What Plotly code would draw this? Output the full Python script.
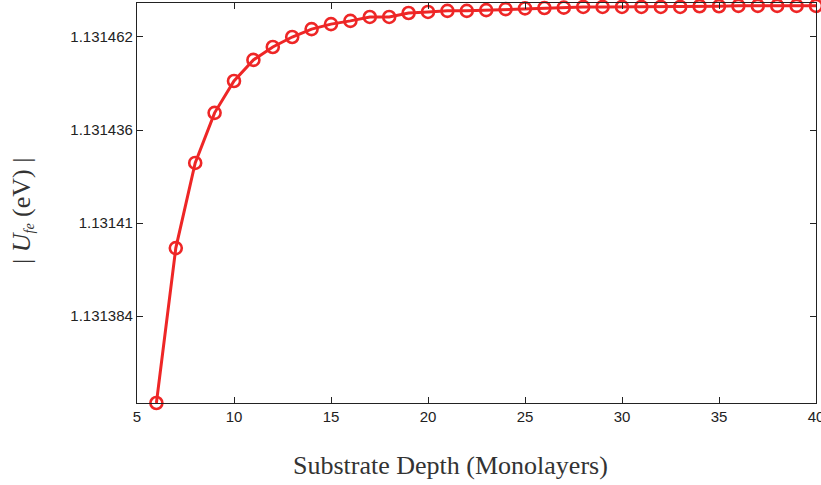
import plotly.graph_objects as go

depth = list(range(6, 41))
energy = [
    1.1313597, 1.1314030, 1.1314268, 1.1314408, 1.1314497, 1.1314556, 1.1314592,
    1.1314620, 1.1314642, 1.1314656, 1.1314665, 1.1314676, 1.1314676, 1.1314687,
    1.1314690, 1.1314693, 1.1314693, 1.1314695, 1.1314698, 1.1314700, 1.1314701,
    1.1314702, 1.1314704, 1.1314704, 1.1314704, 1.1314704, 1.1314704, 1.1314704,
    1.1314706, 1.1314706, 1.1314707, 1.1314707, 1.1314707, 1.1314707, 1.1314707,
]
x_ticks = [5, 10, 15, 20, 25, 30, 35, 40]
y_ticks = [1.131384, 1.13141, 1.131436, 1.131462]
y_tick_labels = ["1.131384", "1.13141", "1.131436", "1.131462"]

red = "rgb(238,38,38)"

fig = go.Figure(go.Scatter(
    x=depth, y=energy, mode="lines+markers",
    line=dict(color=red, width=3),
    marker=dict(symbol="circle-open", size=12, color=red, line=dict(width=2.6, color=red)),
    cliponaxis=False,
))

tick_font = dict(family="Liberation Sans Narrow, Liberation Sans, Arial", size=15, color="#222")
title_font = dict(family="Liberation Serif, DejaVu Serif", size=26, color="#333")
fig.update_layout(
    width=821, height=485,
    margin=dict(l=137, r=5, t=3, b=82),
    paper_bgcolor="white", plot_bgcolor="white",
    showlegend=False,
    xaxis=dict(
        range=[5, 40], tickvals=x_ticks, ticks="inside", ticklen=6, tickcolor="#222",
        showline=True, linecolor="#222", linewidth=1.2, mirror="ticks",
        showgrid=False, zeroline=False, tickfont=tick_font, automargin=False,
        ticklabeloverflow="allow",
    ),
    yaxis=dict(
        range=[1.1313597, 1.1314715], tickvals=y_ticks, ticktext=y_tick_labels,
        ticks="inside", ticklen=6, tickcolor="#222",
        showline=True, linecolor="#222", linewidth=1.2, mirror="ticks",
        showgrid=False, zeroline=False, tickfont=tick_font, automargin=False,
    ),
    annotations=[
        dict(text="Substrate Depth (Monolayers)", xref="paper", yref="paper",
             x=(450 - 137) / 679, y=-(465 - 403) / 400, xanchor="center", yanchor="middle",
             showarrow=False, font=title_font),
        dict(text="| <i>U</i><span style='font-size:20px'><sub><i>fe</i></sub></span> (eV) |",
             xref="paper", yref="paper",
             x=-(137 - 22) / 679, y=(403 - 211) / 400, xanchor="center", yanchor="middle",
             textangle=-90, showarrow=False, font=title_font),
    ],
)

fig.write_html("out.html", config={"displayModeBar": False},
               post_script="document.body.style.margin='0';")
